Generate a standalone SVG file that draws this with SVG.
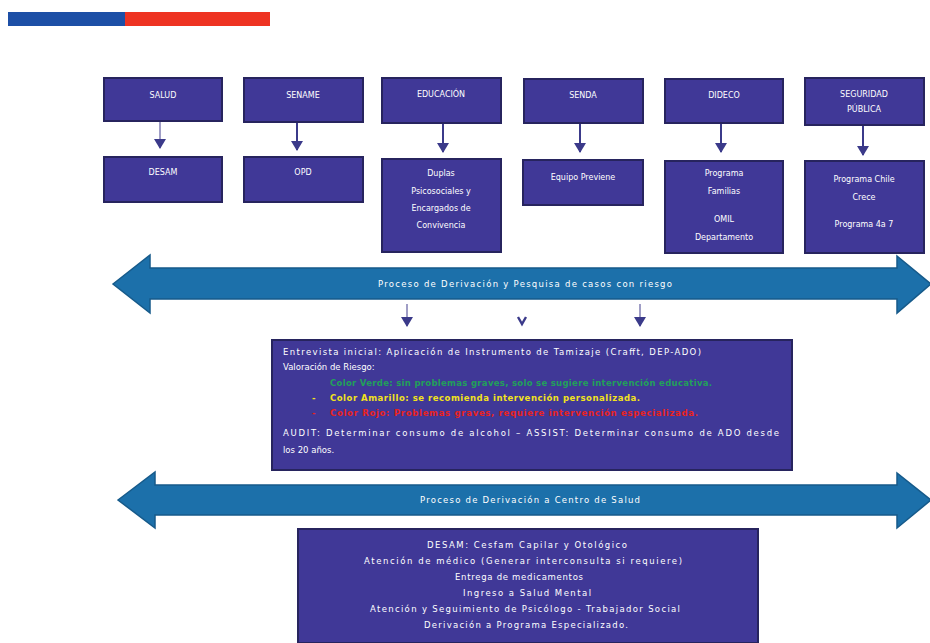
<svg xmlns="http://www.w3.org/2000/svg" width="930" height="643" viewBox="0 0 930 643">
<defs>
<style>
.box{fill:#403897;stroke:#27245e;stroke-width:2}
.t{font-family:"DejaVu Sans","Liberation Sans",sans-serif;font-size:8px;fill:#ffffff;text-anchor:middle}
.tm{font-family:"DejaVu Sans","Liberation Sans",sans-serif;font-size:8.5px;fill:#ffffff;text-anchor:middle}
.tl{font-family:"DejaVu Sans","Liberation Sans",sans-serif;font-size:8.5px;fill:#ffffff}
.bar{fill:#1c70aa;stroke:#165a8a;stroke-width:1.5}
.con{stroke:#3b3a8a;stroke-width:2;fill:none}
.conl{stroke:#6d6aa8;stroke-width:1.3;fill:none}
</style>
<marker id="av" markerWidth="12" markerHeight="10" refX="6" refY="9" markerUnits="userSpaceOnUse" viewBox="0 0 12 10">
<path d="M0,0 L12,0 L6,10 Z" fill="#3b3a8a"/>
</marker>
</defs>
<rect width="930" height="643" fill="#ffffff"/>
<rect x="8" y="12" width="118" height="14" fill="#1d4fa6"/>
<rect x="125" y="12" width="145" height="14" fill="#ee3322"/>

<g id="connectors">
<line class="conl" x1="160" y1="121" x2="160" y2="148" marker-end="url(#av)"/>
<line class="con" x1="297" y1="122" x2="297" y2="150" marker-end="url(#av)"/>
<line class="con" x1="443" y1="123" x2="443" y2="152" marker-end="url(#av)"/>
<line class="con" x1="580" y1="123" x2="580" y2="152" marker-end="url(#av)"/>
<line class="con" x1="721" y1="123" x2="721" y2="152" marker-end="url(#av)"/>
<line class="con" x1="863" y1="125" x2="863" y2="155" marker-end="url(#av)"/>
<line class="conl" x1="407" y1="304" x2="407" y2="326" marker-end="url(#av)"/>
<path d="M518,317 L522,324 L526,317" stroke="#3b3a8a" stroke-width="2.4" fill="none"/>
<line class="conl" x1="640" y1="304" x2="640" y2="326" marker-end="url(#av)"/>
</g>

<g id="n-salud"><rect class="box" x="104" y="78" width="118" height="43"/><text class="t" x="163" y="98">SALUD</text></g>
<g id="n-sename"><rect class="box" x="244" y="78" width="119" height="44"/><text class="t" x="303" y="98">SENAME</text></g>
<g id="n-educacion"><rect class="box" x="382" y="78" width="119" height="45"/><text class="t" x="441" y="97">EDUCACIÓN</text></g>
<g id="n-senda"><rect class="box" x="524" y="79" width="119" height="44"/><text class="t" x="583" y="98">SENDA</text></g>
<g id="n-dideco"><rect class="box" x="665" y="79" width="118" height="44"/><text class="t" x="724" y="98">DIDECO</text></g>
<g id="n-seguridad"><rect class="box" x="805" y="78" width="119" height="47"/><text class="t" x="864" y="97">SEGURIDAD</text><text class="t" x="864" y="112">PÚBLICA</text></g>

<g id="n-desam"><rect class="box" x="104" y="157" width="118" height="45"/><text class="t" x="163" y="175">DESAM</text></g>
<g id="n-opd"><rect class="box" x="244" y="157" width="119" height="45"/><text class="t" x="303" y="175">OPD</text></g>
<g id="n-duplas"><rect class="box" x="382" y="159" width="119" height="93"/><text class="t" x="441" y="176">Duplas</text><text class="t" x="441" y="194">Psicosociales  y</text><text class="t" x="441" y="211">Encargados de</text><text class="t" x="441" y="228">Convivencia</text></g>
<g id="n-previene"><rect class="box" x="523" y="160" width="120" height="45"/><text class="t" x="583" y="180">Equipo  Previene</text></g>
<g id="n-familias"><rect class="box" x="665" y="161" width="118" height="92"/><text class="t" x="724" y="176">Programa</text><text class="t" x="724" y="194">Familias</text><text class="t" x="724" y="222">OMIL</text><text class="t" x="724" y="240">Departamento</text></g>
<g id="n-chilecrece"><rect class="box" x="805" y="161" width="119" height="92"/><text class="t" x="864" y="182">Programa Chile</text><text class="t" x="864" y="200">Crece</text><text class="t" x="864" y="227">Programa 4a 7</text></g>

<g id="n-proceso1">
<path class="bar" d="M113,284 L150,255 L150,268 L897,268 L897,256 L931,284 L897,313 L897,299 L150,299 L150,313 Z"/>
<text class="tm" x="525" y="287" textLength="294" lengthAdjust="spacing">Proceso de Derivación y Pesquisa de casos con riesgo</text>
</g>

<g id="n-entrevista">
<rect class="box" x="272" y="340" width="520" height="130"/>
<text class="tl" x="283" y="355" textLength="418" lengthAdjust="spacing">Entrevista inicial: Aplicación de Instrumento de Tamizaje (Crafft, DEP-ADO)</text>
<text class="tl" x="283" y="370">Valoración de Riesgo:</text>
<text class="tl" x="330" y="386" textLength="382" lengthAdjust="spacing" style="fill:#22a05a;font-weight:bold">Color Verde: sin problemas graves, solo se sugiere intervención educativa.</text>
<text class="tl" x="312" y="401" style="fill:#f2e21c;font-weight:bold">-</text>
<text class="tl" x="330" y="401" textLength="310" lengthAdjust="spacing" style="fill:#f2e21c;font-weight:bold">Color Amarillo: se recomienda intervención personalizada.</text>
<text class="tl" x="312" y="416" style="fill:#e8231e;font-weight:bold">-</text>
<text class="tl" x="330" y="416" textLength="368" lengthAdjust="spacing" style="fill:#e8231e;font-weight:bold">Color Rojo: Problemas graves, requiere intervención especializada.</text>
<text class="tl" x="283" y="436" textLength="496" lengthAdjust="spacing">AUDIT:  Determinar  consumo  de  alcohol  – ASSIST:  Determinar  consumo  de  ADO  desde</text>
<text class="tl" x="283" y="453">los 20 años.</text>
</g>

<g id="n-proceso2">
<path class="bar" d="M118,500 L155,472 L155,485 L897,485 L897,473 L931,500 L897,528 L897,515 L155,515 L155,528 Z"/>
<text class="tm" x="530" y="503" textLength="220" lengthAdjust="spacing">Proceso de Derivación a Centro de Salud</text>
</g>

<g id="n-salud-centro">
<rect class="box" x="298" y="529" width="460" height="114"/>
<text class="tm" x="527" y="548" textLength="200" lengthAdjust="spacing">DESAM: Cesfam Capilar y Otológico</text>
<text class="tm" x="523" y="564" textLength="318" lengthAdjust="spacing">Atención  de médico (Generar interconsulta  si requiere)</text>
<text class="tm" x="519" y="580" textLength="128" lengthAdjust="spacing">Entrega de medicamentos</text>
<text class="tm" x="527" y="596" textLength="128" lengthAdjust="spacing">Ingreso a Salud Mental</text>
<text class="tm" x="525" y="612" textLength="310" lengthAdjust="spacing">Atención  y Seguimiento de Psicólogo - Trabajador Social</text>
<text class="tm" x="526" y="628" textLength="204" lengthAdjust="spacing">Derivación a Programa Especializado.</text>
</g>
</svg>
